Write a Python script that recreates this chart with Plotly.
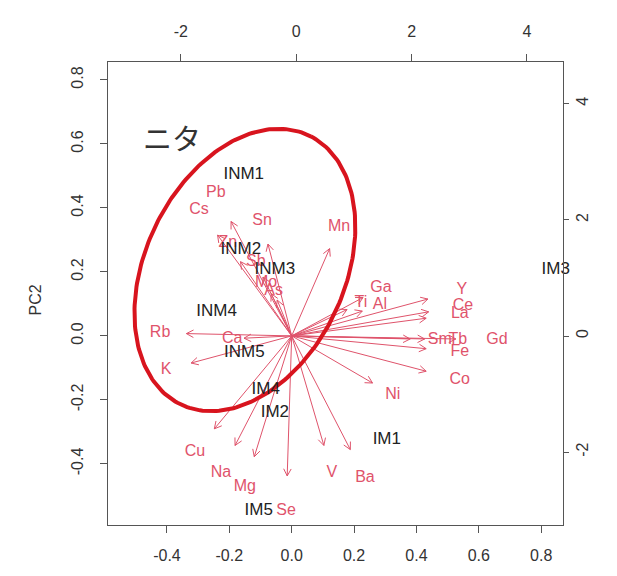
import numpy as np
import plotly.graph_objects as go

# ---- variable loadings (label positions; arrows drawn to 0.8x, as biplot does) ----
var_names = ["Pb", "Cs", "Sn", "Zn", "Sb", "Mo", "As", "Mn", "Rb", "K", "Ca",
             "Ti", "Ga", "Al", "Y", "Ce", "La", "Sm", "Tb", "Gd", "Fe", "Co",
             "Ni", "Ba", "V", "Se", "Mg", "Na", "Cu"]
var_pc1 = [-0.243, -0.297, -0.095, -0.205, -0.115, -0.082, -0.058, 0.152, -0.422, -0.403, -0.191,
           0.222, 0.286, 0.283, 0.546, 0.549, 0.539, 0.475, 0.533, 0.658, 0.539, 0.539,
           0.324, 0.235, 0.129, -0.018, -0.150, -0.227, -0.310]
var_pc2 = [0.447, 0.394, 0.359, 0.290, 0.230, 0.165, 0.140, 0.341, 0.009, -0.106, -0.009,
           0.103, 0.150, 0.097, 0.144, 0.094, 0.069, -0.012, -0.012, -0.012, -0.050, -0.138,
           -0.184, -0.444, -0.428, -0.547, -0.472, -0.428, -0.363]

# ---- sample scores ----
sample_names = ["INM1", "INM2", "INM3", "INM4", "INM5", "IM1", "IM2", "IM3", "IM4", "IM5"]
sample_pc1 = [-0.91, -0.96, -0.37, -1.38, -0.90, 1.57, -0.37, 4.50, -0.53, -0.65]
sample_pc2 = [2.77, 1.48, 1.14, 0.41, -0.29, -1.79, -1.33, 1.14, -0.93, -3.01]

# ---- axis ticks ----
load_ticks = [-0.4, -0.2, 0.0, 0.2, 0.4, 0.6, 0.8]
load_ticktext = ["-0.4", "-0.2", "0.0", "0.2", "0.4", "0.6", "0.8"]
score_ticks = [-2, 0, 2, 4]
score_ticktext = ["-2", "0", "2", "4"]

# ---- group ellipse (loading units): centre, semi-axes, tilt ----
ell_center = (-0.150, 0.206)
ell_axes = (0.468, 0.318)
ell_angle_deg = 63.0

# ---- layout geometry ----
W, H = 617, 576
M = dict(l=108, r=54, t=62, b=51)
x_range = [-0.589, 0.870]
y_range = [-0.591, 0.856]
x2_range = [-3.264, 4.625]
y2_range = [-3.255, 4.719]

plot_w = W - M["l"] - M["r"]
plot_h = H - M["t"] - M["b"]
sx = plot_w / (x_range[1] - x_range[0])
sy = plot_h / (y_range[1] - y_range[0])

ARROW_COL = "#DF536B"
TEXT_COL = "#222222"
AXIS_COL = "#555555"
FONT = "Liberation Sans, Arial, sans-serif"

# arrows: shaft + open V head
head_len, head_ang = 8.0, np.radians(28)
ax_x, ax_y = [], []
for px, py in zip(var_pc1, var_pc2):
    tx, ty = 0.8 * px, 0.8 * py
    ax_x += [0, tx, None]
    ax_y += [0, ty, None]
    ang = np.arctan2(ty * sy, tx * sx)
    pts = []
    for s in (1, -1):
        a = ang + np.pi + s * head_ang
        pts.append((tx + head_len * np.cos(a) / sx, ty + head_len * np.sin(a) / sy))
    ax_x += [pts[0][0], tx, pts[1][0], None]
    ax_y += [pts[0][1], ty, pts[1][1], None]

fig = go.Figure()

fig.add_trace(go.Scatter(
    x=ax_x, y=ax_y, mode="lines",
    line=dict(color=ARROW_COL, width=1), hoverinfo="skip", showlegend=False,
    xaxis="x", yaxis="y"))

fig.add_trace(go.Scatter(
    x=var_pc1, y=var_pc2, mode="text", text=var_names, cliponaxis=False,
    textfont=dict(color=ARROW_COL, size=16, family=FONT),
    showlegend=False, xaxis="x", yaxis="y"))

fig.add_trace(go.Scatter(
    x=sample_pc1, y=sample_pc2, mode="text", text=sample_names, cliponaxis=False,
    textfont=dict(color=TEXT_COL, size=17, family=FONT),
    showlegend=False, xaxis="x2", yaxis="y2"))

# ellipse outline
t = np.linspace(0, 2 * np.pi, 240)
th = np.radians(ell_angle_deg)
a, b = ell_axes
ex = ell_center[0] + a * np.cos(t) * np.cos(th) - b * np.sin(t) * np.sin(th)
ey = ell_center[1] + a * np.cos(t) * np.sin(th) + b * np.sin(t) * np.cos(th)
fig.add_trace(go.Scatter(
    x=ex, y=ey, mode="lines", line=dict(color="#D8141E", width=4),
    hoverinfo="skip", showlegend=False, xaxis="x", yaxis="y"))

fig.add_annotation(x=-0.384, y=0.622, xref="x", yref="y", text="ニタ",
                   showarrow=False,
                   font=dict(family="Noto Sans CJK JP", size=29, color="#333333"))

fig.add_annotation(x=(25 - M["l"]) / plot_w, y=0.486, xref="paper", yref="paper",
                   text="PC2", textangle=-90, showarrow=False,
                   font=dict(family=FONT, size=16, color="#333333"))

axis_common = dict(showgrid=False, zeroline=False, showline=True, linecolor=AXIS_COL,
                   linewidth=1, ticks="outside", tickcolor=AXIS_COL,
                   tickwidth=1, mirror=False,
                   tickfont=dict(family=FONT, size=16, color="#333333"))

fig.update_layout(
    width=W, height=H, margin=M,
    paper_bgcolor="white", plot_bgcolor="white",
    xaxis=dict(range=x_range, tickvals=load_ticks, ticktext=load_ticktext,
               side="bottom", ticklen=7, ticklabelstandoff=9, **axis_common),
    yaxis=dict(range=y_range, tickvals=load_ticks, ticktext=load_ticktext,
               side="left", tickangle=-90, ticklen=7, ticklabelstandoff=11,
               **axis_common),
    xaxis2=dict(range=x2_range, tickvals=score_ticks, ticktext=score_ticktext,
                side="top", overlaying="x", ticklen=7, ticklabelstandoff=11,
                **axis_common),
    yaxis2=dict(range=y2_range, tickvals=score_ticks, ticktext=score_ticktext,
                side="right", overlaying="y", tickangle=-90, ticklen=5,
                ticklabelstandoff=0, **axis_common),
)

fig.write_html("out.html")
